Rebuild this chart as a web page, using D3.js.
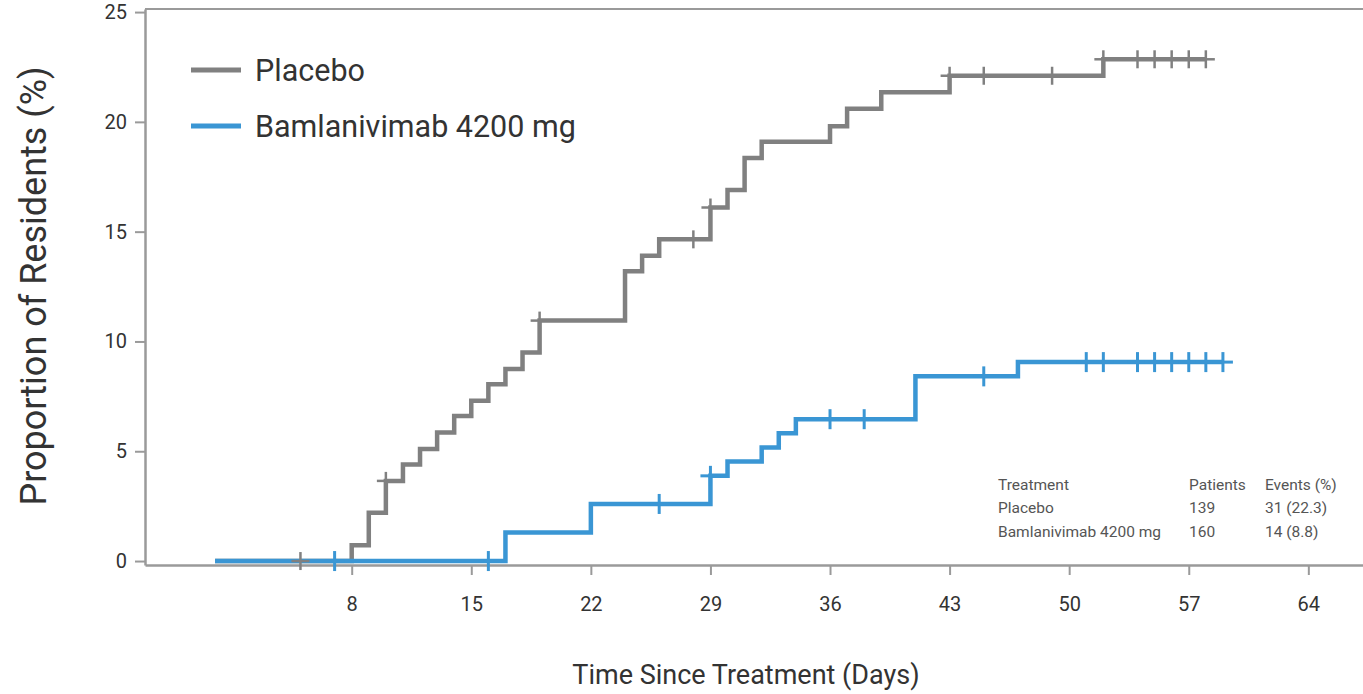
<!DOCTYPE html>
<html>
<head>
<meta charset="utf-8">
<script src="https://cdn.jsdelivr.net/npm/d3@7"></script>
<style>
  html, body { margin: 0; padding: 0; background: #fff; }
  svg { display: block; font-family: Roboto, "Open Sans", sans-serif; }
</style>
</head>
<body>
<svg id="chart" width="1363" height="694"></svg>
<script>
// ---- Data ----
const xTicks = [8, 15, 22, 29, 36, 43, 50, 57, 64];
const yTicks = [0, 5, 10, 15, 20, 25];

const seriesNames = ["Placebo", "Bamlanivimab 4200 mg"];

const placeboDays   = [0, 8, 9, 10, 11, 12, 13, 14, 15, 16, 17, 18, 19, 24, 25, 26, 29, 30, 31, 32, 36, 37, 39, 43, 52];
const placeboValues = [0, 0.72, 2.2, 3.65, 4.4, 5.1, 5.85, 6.6, 7.3, 8.05, 8.75, 9.5, 10.95, 13.2, 13.9, 14.65, 16.1, 16.9, 18.35, 19.1, 19.8, 20.6, 21.35, 22.1, 22.85];
const placeboEndDay = 58;
const placeboCensorDays = [5, 10, 19, 28, 29, 43, 45, 49, 52, 54, 55, 56, 57, 58];

const bamDays   = [0, 17, 22, 29, 30, 32, 33, 34, 41, 47];
const bamValues = [0, 1.3, 2.6, 3.88, 4.53, 5.17, 5.82, 6.46, 8.41, 9.06];
const bamEndDay = 59;
const bamCensorDays = [7, 16, 26, 29, 36, 38, 45, 51, 52, 54, 55, 56, 57, 58, 59];

const tableHeader = ["Treatment", "Patients", "Events (%)"];
const tableRows = [
  ["Placebo", "139", "31 (22.3)"],
  ["Bamlanivimab 4200 mg", "160", "14 (8.8)"]
];

const colors = ["#808080", "#3a96d4"];

// ---- Layout ----
const W = 1363, H = 694;
const plot = { left: 145, right: 1363, top: 9, bottom: 565 };

const svg = d3.select("#chart");

const x = d3.scaleLinear().domain([-4.1, 67.2]).range([plot.left, plot.right]);
const y = d3.scaleLinear().domain([-0.18, 25.14]).range([plot.bottom, plot.top]);

const axisColor = "#9a9a9a";
const textColor = "#333";

// frame top line
svg.append("line")
  .attr("x1", plot.left).attr("x2", plot.right)
  .attr("y1", plot.top).attr("y2", plot.top)
  .attr("stroke", axisColor).attr("stroke-width", 2);

// x axis
const gx = svg.append("g")
  .attr("transform", `translate(0,${plot.bottom})`)
  .call(d3.axisBottom(x).tickValues(xTicks).tickSize(10).tickPadding(22).tickSizeOuter(0));
gx.select(".domain").attr("stroke", axisColor).attr("stroke-width", 2.5);
gx.selectAll(".tick line").attr("stroke", axisColor).attr("stroke-width", 2);
gx.selectAll(".tick text").attr("fill", textColor).attr("font-size", 20).attr("font-family", "Roboto");

// y axis
const gy = svg.append("g")
  .attr("transform", `translate(${plot.left},0)`)
  .call(d3.axisLeft(y).tickValues(yTicks).tickSize(10).tickPadding(8).tickSizeOuter(0));
gy.select(".domain").attr("stroke", axisColor).attr("stroke-width", 2.5);
gy.selectAll(".tick line").attr("stroke", axisColor).attr("stroke-width", 2);
gy.selectAll(".tick text").attr("fill", textColor).attr("font-size", 20).attr("font-family", "Roboto");

// axis titles
svg.append("text")
  .attr("x", 746)
  .attr("y", 684)
  .attr("text-anchor", "middle")
  .attr("font-size", 27)
  .attr("fill", textColor)
  .text("Time Since Treatment (Days)");

svg.append("text")
  .attr("transform", `translate(46,286) rotate(-90)`)
  .attr("text-anchor", "middle")
  .attr("font-size", 36)
  .attr("fill", textColor)
  .text("Proportion of Residents (%)");

// ---- KM step curves ----
const line = d3.line().x(d => x(d[0])).y(d => y(d[1])).curve(d3.curveStepAfter);

function stepValue(days, values, d) {
  let v = values[0];
  for (let i = 0; i < days.length; i++) if (days[i] <= d) v = values[i];
  return v;
}

const series = [
  { days: placeboDays, values: placeboValues, end: placeboEndDay, censor: placeboCensorDays, color: colors[0], width: 4.5, tickH: 9, tickW: 9, tickStroke: 2.5 },
  { days: bamDays, values: bamValues, end: bamEndDay, censor: bamCensorDays, color: colors[1], width: 4.5, tickH: 10, tickW: 10, tickStroke: 3 }
];

series.forEach(s => {
  const pts = s.days.map((d, i) => [d, s.values[i]]);
  pts.push([s.end, s.values[s.values.length - 1]]);
  svg.append("path")
    .datum(pts)
    .attr("d", line)
    .attr("fill", "none")
    .attr("stroke", s.color)
    .attr("stroke-width", s.width)
    .attr("stroke-linejoin", "miter")
    .attr("stroke-linecap", "butt");
});

series.forEach(s => {
  const g = svg.append("g");
  s.censor.forEach(d => {
    const v = stepValue(s.days, s.values, d);
    g.append("line")
      .attr("x1", x(d)).attr("x2", x(d))
      .attr("y1", y(v) - s.tickH).attr("y2", y(v) + s.tickH)
      .attr("stroke", s.color).attr("stroke-width", s.tickStroke);
    g.append("line")
      .attr("x1", x(d) - s.tickW).attr("x2", x(d) + s.tickW)
      .attr("y1", y(v)).attr("y2", y(v))
      .attr("stroke", s.color).attr("stroke-width", s.tickStroke);
  });
});

// ---- Legend ----
const legend = svg.append("g");
seriesNames.forEach((name, i) => {
  const ly = 70 + i * 56;
  legend.append("line")
    .attr("x1", 191).attr("x2", 241)
    .attr("y1", ly).attr("y2", ly)
    .attr("stroke", colors[i]).attr("stroke-width", 5);
  legend.append("text")
    .attr("x", 255).attr("y", ly + 11)
    .attr("font-size", 30.5)
    .attr("fill", textColor)
    .text(name);
});

// ---- Summary table ----
const table = svg.append("g").attr("font-size", 15.5).attr("fill", "#555");
const colX = [998, 1189, 1265];
const rowY = [490, 513, 537];
[tableHeader, ...tableRows].forEach((row, r) => {
  row.forEach((cell, c) => {
    table.append("text").attr("x", colX[c]).attr("y", rowY[r]).text(cell);
  });
});
</script>
</body>
</html>
